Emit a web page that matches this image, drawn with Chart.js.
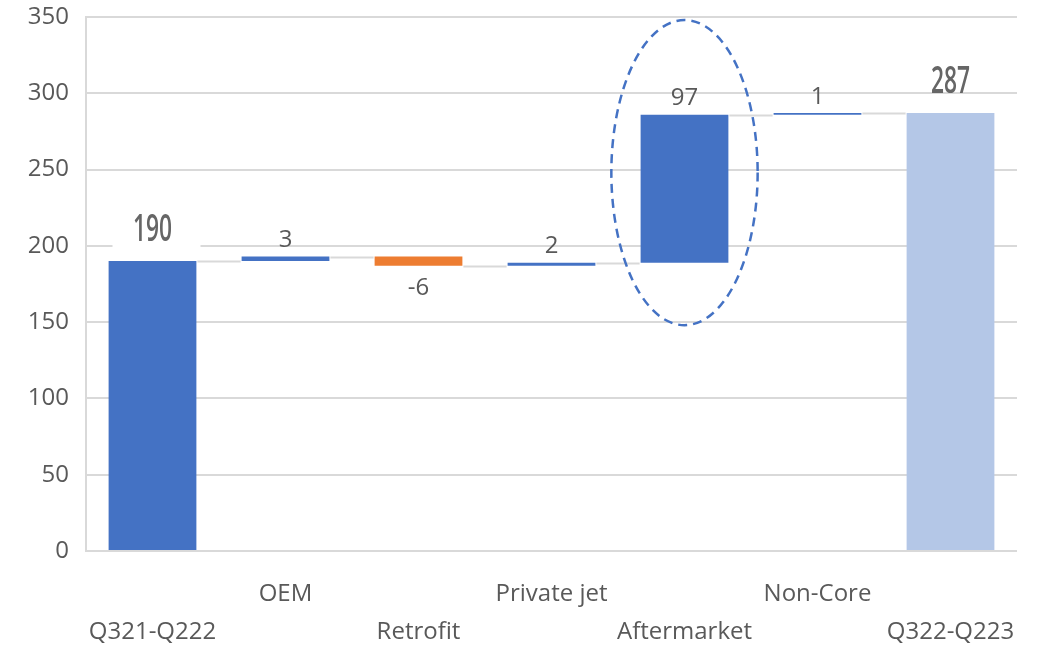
<!DOCTYPE html>
<html>
<head>
<meta charset="utf-8">
<script src="https://cdn.jsdelivr.net/npm/chart.js@4/dist/chart.umd.min.js"></script>
<style>
  html, body { margin: 0; padding: 0; background: #ffffff; }
  #wrap { width: 1040px; height: 646px; position: relative; }
</style>
</head>
<body>
<div id="wrap"><canvas id="chart" width="1040" height="646"></canvas></div>
<script>
// Revenue bridge: opening total, segment changes, closing total
const categories = ['Q321-Q222', 'OEM', 'Retrofit', 'Private jet', 'Aftermarket', 'Non-Core', 'Q322-Q223'];
const values = [190, 3, -6, 2, 97, 1, 287];
const barKinds = ['total', 'delta', 'delta', 'delta', 'delta', 'delta', 'total'];
const yTickValues = [0, 50, 100, 150, 200, 250, 300, 350];

// Floating [start, end] ranges built from the running total
const ranges = [];
let running = 0;
values.forEach((v, i) => {
  if (barKinds[i] === 'total') {
    ranges.push([0, v]);
    running = v;
  } else {
    ranges.push([running, running + v]);
    running += v;
  }
});

const COLOR_UP = '#4472C4';
const COLOR_DOWN = '#ED7D31';
const COLOR_END = '#B4C7E7';
const GRID = '#D9D9D9';
const TEXT = '#595959';
const FONT = "'Open Sans', 'Liberation Sans', sans-serif";

const barColors = values.map((v, i) =>
  i === values.length - 1 ? COLOR_END : (v < 0 ? COLOR_DOWN : COLOR_UP));

// Two-row category labels: alternate categories sit on the lower row
const tickLines = categories.map((c, i) => (i % 2 === 0 ? ['', c] : [c, '']));

// Grey connector lines joining each bar's end level to the next bar
const connectorPlugin = {
  id: 'connectors',
  beforeDatasetsDraw(chart) {
    const meta = chart.getDatasetMeta(0);
    const y = chart.scales.y;
    const ctx = chart.ctx;
    ctx.save();
    ctx.strokeStyle = GRID;
    ctx.lineWidth = 2;
    for (let i = 0; i < meta.data.length - 1; i++) {
      const a = meta.data[i], b = meta.data[i + 1];
      const py = Math.round(y.getPixelForValue(ranges[i][1])) + 0.5;
      ctx.beginPath();
      ctx.moveTo(a.x + a.width / 2 + 1, py);
      ctx.lineTo(b.x - b.width / 2 - 1, py);
      ctx.stroke();
    }
    ctx.restore();
  }
};

// Value labels: deltas in plain text, totals in a tall condensed face
const labelPlugin = {
  id: 'valueLabels',
  afterDatasetsDraw(chart) {
    const meta = chart.getDatasetMeta(0);
    const ctx = chart.ctx;
    ctx.save();
    meta.data.forEach((el, i) => {
      const v = values[i];
      const top = Math.min(el.y, el.base);
      const bottom = Math.max(el.y, el.base);
      const text = String(v);
      if (barKinds[i] === 'total') {
        const cy = top - 31;
        if (i === 0) {
          ctx.fillStyle = '#ffffff';
          ctx.fillRect(el.x - 40, cy - 18, 88, 36);
        }
        ctx.save();
        ctx.translate(el.x, cy);
        ctx.scale(0.6, 1);
        ctx.font = "600 38px " + FONT;
        ctx.fillStyle = '#666666';
        ctx.textAlign = 'center';
        ctx.textBaseline = 'middle';
        ctx.fillText(text, 0, 0);
        ctx.restore();
      } else {
        ctx.font = "24px " + FONT;
        ctx.fillStyle = TEXT;
        ctx.textAlign = 'center';
        ctx.textBaseline = 'middle';
        const cy = v < 0 ? bottom + 22 : top - 16;
        ctx.fillText(text, el.x, cy);
      }
    });
    ctx.restore();
  }
};

// Dashed ellipse highlighting one category
const highlightPlugin = {
  id: 'highlight',
  afterDatasetsDraw(chart, args, opts) {
    const meta = chart.getDatasetMeta(0);
    const el = meta.data[opts.index];
    const y = chart.scales.y;
    const x = chart.scales.x;
    const catW = (x.right - x.left) / categories.length;
    const cy = y.getPixelForValue(opts.centerValue);
    const ry = Math.abs(y.getPixelForValue(opts.centerValue + opts.radiusValue) - cy);
    const rx = catW * opts.radiusFrac;
    const ctx = chart.ctx;
    ctx.save();
    ctx.strokeStyle = COLOR_UP;
    ctx.lineWidth = 2.5;
    ctx.setLineDash([9, 6]);
    ctx.beginPath();
    ctx.ellipse(el.x, cy, rx, ry, 0, 0, Math.PI * 2);
    ctx.stroke();
    ctx.restore();
  }
};

new Chart(document.getElementById('chart'), {
  type: 'bar',
  data: {
    labels: categories,
    datasets: [{
      data: ranges,
      backgroundColor: barColors,
      borderWidth: 0,
      barPercentage: 0.66,
      categoryPercentage: 1.0
    }]
  },
  options: {
    responsive: false,
    animation: false,
    devicePixelRatio: 1,
    layout: { padding: { top: 17, right: 23, left: 0, bottom: 0 } },
    plugins: {
      legend: { display: false },
      tooltip: { enabled: false },
      highlight: { index: 4, centerValue: 248, radiusValue: 100, radiusFrac: 0.55 }
    },
    scales: {
      x: {
        grid: { display: false, drawTicks: false },
        border: { display: false },
        ticks: {
          padding: 24,
          color: TEXT,
          maxRotation: 0,
          autoSkip: false,
          font: { family: FONT, size: 24, lineHeight: 1.6 },
          callback: (val, i) => tickLines[i]
        },
        afterFit: (s) => { s.height = 95; }
      },
      y: {
        min: 0,
        max: 350,
        afterBuildTicks: (s) => { s.ticks = yTickValues.map(v => ({ value: v })); },
        grid: { color: GRID, lineWidth: 2, drawTicks: false },
        border: { display: true, color: GRID, width: 2 },
        ticks: {
          padding: 17,
          color: TEXT,
          font: { family: FONT, size: 24 }
        },
        afterFit: (s) => {
          s.width = 86;
          s.paddingTop = 0;
          s.paddingBottom = 0;
        }
      }
    }
  },
  plugins: [connectorPlugin, labelPlugin, highlightPlugin]
});
</script>
</body>
</html>
